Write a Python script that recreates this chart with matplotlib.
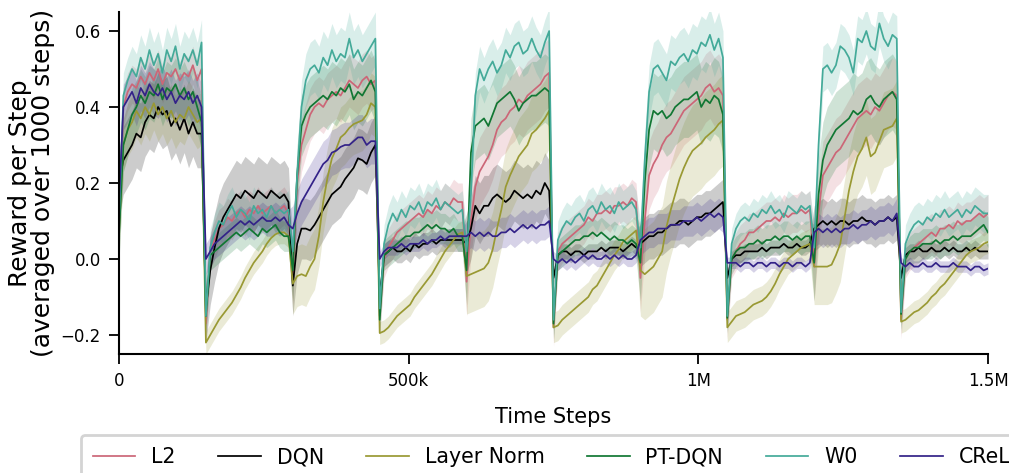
import numpy as np
import matplotlib
matplotlib.use("Agg")
import matplotlib.pyplot as plt

# time axis: one value every 7.5k steps, 10 tasks of 150k steps
steps = np.arange(201) * 7500

labels = ["L2", "DQN", "Layer Norm", "PT-DQN", "W0", "CReLU"]
colors = ["#CC6677", "#000000", "#999933", "#117733", "#44AA99", "#332288"]

l2 = [0.08, 0.40, 0.44, 0.46, 0.45, 0.48, 0.46, 0.49, 0.47, 0.50, 0.46, 0.49, 0.48, 0.50, 0.47, 0.49, 0.48, 0.51, 0.47, 0.50,
      -0.17, 0.02, 0.05, 0.08, 0.09, 0.11, 0.10, 0.12, 0.13, 0.11, 0.13, 0.12, 0.14, 0.12, 0.13, 0.14, 0.12, 0.13, 0.14, 0.12,
      -0.05, 0.20, 0.30, 0.34, 0.38, 0.40, 0.41, 0.40, 0.42, 0.43, 0.44, 0.43, 0.45, 0.47, 0.46, 0.45, 0.47, 0.48, 0.46, 0.47,
      -0.15, 0.00, 0.03, 0.05, 0.07, 0.08, 0.09, 0.10, 0.11, 0.12, 0.11, 0.13, 0.12, 0.14, 0.13, 0.15, 0.14, 0.16, 0.15, 0.15,
      -0.06, 0.10, 0.19, 0.23, 0.25, 0.27, 0.30, 0.34, 0.36, 0.37, 0.39, 0.40, 0.42, 0.41, 0.43, 0.44, 0.45, 0.46, 0.48, 0.49,
      -0.18, 0.02, 0.04, 0.05, 0.06, 0.07, 0.08, 0.09, 0.11, 0.10, 0.12, 0.12, 0.13, 0.12, 0.14, 0.14, 0.15, 0.14, 0.16, 0.15,
      -0.05, 0.10, 0.22, 0.25, 0.27, 0.30, 0.32, 0.33, 0.35, 0.37, 0.39, 0.40, 0.41, 0.42, 0.43, 0.45, 0.46, 0.44, 0.45, 0.43,
      -0.16, 0.00, 0.02, 0.04, 0.05, 0.07, 0.07, 0.08, 0.09, 0.10, 0.10, 0.11, 0.10, 0.12, 0.11, 0.12, 0.12, 0.13, 0.12, 0.13,
      -0.02, 0.12, 0.22, 0.24, 0.26, 0.28, 0.29, 0.31, 0.33, 0.35, 0.37, 0.38, 0.39, 0.38, 0.40, 0.39, 0.41, 0.43, 0.44, 0.43,
      -0.16, 0.00, 0.02, 0.03, 0.04, 0.05, 0.06, 0.07, 0.06, 0.08, 0.08, 0.09, 0.08, 0.10, 0.09, 0.10, 0.10, 0.11, 0.12, 0.11,
      0.12]

dqn = [0.20, 0.26, 0.28, 0.30, 0.33, 0.32, 0.36, 0.38, 0.37, 0.40, 0.38, 0.39, 0.35, 0.37, 0.34, 0.37, 0.33, 0.36, 0.33, 0.33,
       -0.13, -0.03, 0.03, 0.08, 0.11, 0.13, 0.15, 0.17, 0.16, 0.18, 0.17, 0.16, 0.18, 0.17, 0.16, 0.18, 0.17, 0.16, 0.17, 0.15,
       -0.07, 0.04, 0.08, 0.08, 0.075, 0.09, 0.11, 0.13, 0.15, 0.17, 0.18, 0.19, 0.21, 0.225, 0.24, 0.265, 0.26, 0.25, 0.28, 0.30,
       -0.10, 0.01, 0.02, 0.03, 0.02, 0.02, 0.03, 0.02, 0.04, 0.03, 0.04, 0.04, 0.05, 0.04, 0.05, 0.05, 0.05, 0.05, 0.05, 0.05,
       0.04, 0.08, 0.14, 0.12, 0.14, 0.14, 0.16, 0.17, 0.16, 0.15, 0.16, 0.18, 0.17, 0.16, 0.17, 0.16, 0.18, 0.17, 0.20, 0.18,
       -0.05, 0.01, 0.02, 0.02, 0.01, 0.02, 0.02, 0.01, 0.02, 0.02, 0.02, 0.03, 0.02, 0.03, 0.03, 0.03, 0.02, 0.03, 0.04, 0.03,
       0.04, 0.05, 0.06, 0.06, 0.07, 0.07, 0.08, 0.09, 0.09, 0.10, 0.10, 0.09, 0.10, 0.11, 0.11, 0.12, 0.12, 0.13, 0.14, 0.15,
       -0.05, 0.00, 0.01, 0.01, 0.02, 0.02, 0.02, 0.02, 0.03, 0.02, 0.03, 0.03, 0.03, 0.04, 0.03, 0.03, 0.04, 0.03, 0.03, 0.04,
       0.08, 0.09, 0.10, 0.09, 0.10, 0.09, 0.10, 0.10, 0.09, 0.10, 0.10, 0.11, 0.10, 0.10, 0.09, 0.10, 0.10, 0.11, 0.10, 0.11,
       -0.05, 0.01, 0.02, 0.02, 0.03, 0.02, 0.02, 0.03, 0.02, 0.02, 0.03, 0.02, 0.03, 0.02, 0.02, 0.03, 0.02, 0.03, 0.02, 0.02,
       0.02]

layer_norm = [0.07, 0.30, 0.34, 0.36, 0.39, 0.37, 0.40, 0.38, 0.41, 0.38, 0.40, 0.37, 0.39, 0.36, 0.38, 0.37, 0.40, 0.38, 0.36, 0.37,
              -0.22, -0.20, -0.18, -0.16, -0.145, -0.13, -0.115, -0.095, -0.075, -0.05, -0.03, -0.01, 0.005, 0.02, 0.04, 0.055, 0.065, 0.07, 0.07, 0.06,
              -0.065, -0.045, -0.04, -0.045, -0.02, 0.00, 0.06, 0.15, 0.215, 0.265, 0.29, 0.32, 0.33, 0.345, 0.355, 0.36, 0.365, 0.38, 0.41, 0.40,
              -0.195, -0.19, -0.18, -0.165, -0.15, -0.14, -0.13, -0.12, -0.10, -0.085, -0.07, -0.055, -0.04, -0.02, 0.00, 0.02, 0.035, 0.05, 0.065, 0.07,
              -0.045, -0.04, -0.035, -0.03, -0.025, -0.01, 0.025, 0.08, 0.13, 0.19, 0.22, 0.245, 0.27, 0.285, 0.30, 0.33, 0.34, 0.355, 0.37, 0.39,
              -0.18, -0.175, -0.16, -0.15, -0.14, -0.13, -0.12, -0.11, -0.10, -0.08, -0.07, -0.05, -0.03, -0.01, 0.01, 0.025, 0.045, 0.055, 0.065, 0.075,
              -0.03, -0.04, -0.03, -0.02, 0.00, 0.02, 0.085, 0.13, 0.17, 0.21, 0.24, 0.265, 0.285, 0.295, 0.305, 0.32, 0.33, 0.34, 0.355, 0.365,
              -0.18, -0.165, -0.15, -0.145, -0.14, -0.13, -0.12, -0.115, -0.11, -0.10, -0.085, -0.065, -0.04, -0.02, 0.00, 0.01, 0.02, 0.03, 0.035, 0.04,
              -0.02, -0.02, -0.02, -0.02, -0.015, 0.01, 0.04, 0.11, 0.18, 0.23, 0.27, 0.29, 0.32, 0.27, 0.28, 0.31, 0.34, 0.345, 0.35, 0.37,
              -0.165, -0.16, -0.15, -0.14, -0.135, -0.125, -0.115, -0.10, -0.09, -0.075, -0.065, -0.05, -0.035, -0.02, -0.005, 0.01, 0.02, 0.025, 0.03, 0.04,
              0.045]

pt_dqn = [0.06, 0.30, 0.34, 0.38, 0.40, 0.43, 0.41, 0.44, 0.43, 0.46, 0.42, 0.45, 0.44, 0.46, 0.43, 0.45, 0.42, 0.44, 0.40, 0.36,
          -0.15, 0.01, 0.02, 0.03, 0.04, 0.05, 0.06, 0.07, 0.06, 0.07, 0.08, 0.07, 0.06, 0.08, 0.07, 0.08, 0.09, 0.07, 0.06, 0.06,
          -0.03, 0.22, 0.35, 0.38, 0.40, 0.41, 0.42, 0.43, 0.42, 0.44, 0.43, 0.45, 0.44, 0.46, 0.42, 0.44, 0.43, 0.45, 0.47, 0.44,
          -0.16, 0.01, 0.02, 0.03, 0.04, 0.05, 0.06, 0.06, 0.07, 0.07, 0.08, 0.09, 0.08, 0.09, 0.08, 0.08, 0.07, 0.08, 0.06, 0.06,
          -0.03, 0.28, 0.35, 0.36, 0.37, 0.35, 0.38, 0.41, 0.42, 0.43, 0.44, 0.42, 0.39, 0.41, 0.42, 0.43, 0.43, 0.44, 0.45, 0.44,
          -0.17, 0.01, 0.02, 0.03, 0.04, 0.05, 0.05, 0.06, 0.06, 0.07, 0.06, 0.07, 0.06, 0.05, 0.06, 0.05, 0.05, 0.04, 0.05, 0.04,
          -0.01, 0.20, 0.34, 0.39, 0.38, 0.39, 0.37, 0.38, 0.40, 0.41, 0.42, 0.42, 0.43, 0.44, 0.40, 0.42, 0.41, 0.43, 0.42, 0.38,
          -0.155, 0.00, 0.02, 0.03, 0.03, 0.04, 0.04, 0.05, 0.04, 0.05, 0.05, 0.06, 0.05, 0.06, 0.06, 0.05, 0.06, 0.05, 0.06, 0.06,
          -0.01, 0.17, 0.26, 0.30, 0.32, 0.34, 0.35, 0.36, 0.37, 0.39, 0.38, 0.39, 0.42, 0.43, 0.41, 0.40, 0.42, 0.43, 0.44, 0.42,
          -0.145, 0.00, 0.02, 0.03, 0.03, 0.04, 0.04, 0.04, 0.05, 0.04, 0.05, 0.05, 0.06, 0.05, 0.06, 0.06, 0.06, 0.07, 0.08, 0.09,
          0.07]

w0 = [0.10, 0.43, 0.47, 0.50, 0.48, 0.53, 0.50, 0.55, 0.51, 0.54, 0.49, 0.55, 0.52, 0.56, 0.50, 0.54, 0.52, 0.55, 0.51, 0.57,
      -0.15, 0.03, 0.07, 0.10, 0.09, 0.12, 0.14, 0.11, 0.13, 0.12, 0.10, 0.14, 0.12, 0.13, 0.11, 0.14, 0.12, 0.13, 0.12, 0.13,
      0.02, 0.22, 0.40, 0.47, 0.50, 0.51, 0.49, 0.53, 0.51, 0.55, 0.52, 0.54, 0.53, 0.58, 0.53, 0.55, 0.52, 0.54, 0.56, 0.58,
      -0.13, 0.04, 0.09, 0.12, 0.10, 0.13, 0.11, 0.14, 0.13, 0.15, 0.12, 0.15, 0.14, 0.16, 0.13, 0.15, 0.14, 0.13, 0.12, 0.13,
      0.02, 0.17, 0.43, 0.50, 0.47, 0.50, 0.52, 0.49, 0.51, 0.55, 0.53, 0.56, 0.57, 0.54, 0.55, 0.58, 0.55, 0.53, 0.57, 0.60,
      -0.16, 0.05, 0.08, 0.10, 0.09, 0.11, 0.12, 0.10, 0.13, 0.14, 0.12, 0.15, 0.13, 0.14, 0.12, 0.15, 0.13, 0.14, 0.15, 0.13,
      0.03, 0.26, 0.44, 0.50, 0.51, 0.49, 0.47, 0.52, 0.51, 0.53, 0.54, 0.52, 0.55, 0.54, 0.57, 0.56, 0.59, 0.55, 0.58, 0.53,
      -0.15, 0.04, 0.08, 0.10, 0.11, 0.10, 0.12, 0.11, 0.13, 0.12, 0.14, 0.12, 0.13, 0.11, 0.14, 0.13, 0.12, 0.14, 0.13, 0.14,
      0.03, 0.30, 0.50, 0.51, 0.49, 0.51, 0.56, 0.55, 0.53, 0.49, 0.58, 0.57, 0.60, 0.56, 0.55, 0.62, 0.58, 0.56, 0.59, 0.58,
      -0.14, 0.04, 0.07, 0.09, 0.10, 0.09, 0.11, 0.10, 0.12, 0.11, 0.13, 0.11, 0.12, 0.13, 0.11, 0.13, 0.12, 0.14, 0.13, 0.12,
      0.12]

crelu = [0.15, 0.40, 0.42, 0.44, 0.41, 0.45, 0.43, 0.46, 0.44, 0.43, 0.45, 0.42, 0.44, 0.41, 0.43, 0.42, 0.44, 0.41, 0.43, 0.40,
         0.00, 0.02, 0.04, 0.05, 0.06, 0.07, 0.08, 0.09, 0.10, 0.09, 0.10, 0.09, 0.10, 0.11, 0.10, 0.10, 0.11, 0.10, 0.11, 0.09,
         0.08, 0.12, 0.15, 0.17, 0.19, 0.21, 0.23, 0.25, 0.26, 0.28, 0.285, 0.295, 0.30, 0.30, 0.31, 0.32, 0.32, 0.30, 0.31, 0.31,
         0.00, 0.02, 0.03, 0.03, 0.03, 0.04, 0.03, 0.04, 0.04, 0.04, 0.05, 0.04, 0.05, 0.05, 0.06, 0.05, 0.06, 0.06, 0.06, 0.06,
         0.06, 0.07, 0.06, 0.07, 0.06, 0.07, 0.06, 0.06, 0.07, 0.07, 0.08, 0.07, 0.08, 0.09, 0.08, 0.09, 0.08, 0.09, 0.09, 0.10,
         0.00, -0.01, 0.00, -0.01, 0.00, -0.01, 0.00, 0.01, 0.00, 0.01, 0.00, 0.00, 0.01, 0.00, 0.01, 0.00, 0.01, 0.00, 0.00, 0.01,
         0.05, 0.06, 0.07, 0.07, 0.08, 0.08, 0.08, 0.09, 0.09, 0.09, 0.10, 0.10, 0.10, 0.11, 0.10, 0.11, 0.12, 0.11, 0.12, 0.11,
         -0.01, -0.01, -0.01, -0.02, -0.01, -0.01, -0.02, -0.01, -0.01, -0.02, -0.01, -0.01, -0.02, -0.01, -0.01, -0.02, -0.01, -0.01, -0.02, -0.01,
         0.07, 0.08, 0.07, 0.08, 0.07, 0.08, 0.07, 0.08, 0.08, 0.09, 0.08, 0.09, 0.09, 0.10, 0.09, 0.10, 0.10, 0.11, 0.10, 0.12,
         -0.01, -0.02, -0.01, -0.02, -0.02, -0.01, -0.02, -0.02, -0.01, -0.02, -0.02, -0.02, -0.01, -0.02, -0.02, -0.02, -0.03, -0.02, -0.02, -0.03,
         -0.025]

# spread (half-width of shaded band) per task segment
l2_sd = [0.05, 0.05, 0.07, 0.05, 0.09, 0.05, 0.09, 0.05, 0.09, 0.05]
dqn_sd = [0.09, 0.09, 0.08, 0.03, 0.08, 0.02, 0.06, 0.02, 0.06, 0.02]
layer_norm_sd = [0.07, 0.03, 0.08, 0.03, 0.10, 0.04, 0.12, 0.04, 0.10, 0.03]
pt_dqn_sd = [0.07, 0.04, 0.08, 0.04, 0.09, 0.04, 0.10, 0.04, 0.10, 0.04]
w0_sd = [0.06, 0.05, 0.07, 0.05, 0.06, 0.05, 0.07, 0.04, 0.06, 0.05]
crelu_sd = [0.06, 0.04, 0.06, 0.02, 0.04, 0.02, 0.04, 0.015, 0.04, 0.015]

xtick_vals = [0, 500000, 1000000, 1500000]
xtick_labels = ["0", "500k", "1M", "1.5M"]
ytick_vals = [-0.2, 0.0, 0.2, 0.4, 0.6]

series = [l2, dqn, layer_norm, pt_dqn, w0, crelu]
spreads = [l2_sd, dqn_sd, layer_norm_sd, pt_dqn_sd, w0_sd, crelu_sd]

W, H = 1009, 473
fig = plt.figure(figsize=(W / 100, H / 100), dpi=100)
ax = fig.add_axes([119 / W, 1 - 354 / H, (988 - 119) / W, (354 - 12) / H])

handles = []
for vals, sd, lab, col in zip(series, spreads, labels, colors):
    m = np.array(vals)
    s = np.append(np.repeat(sd, 20), sd[-1])
    ax.fill_between(steps, m - s, m + s, color=col, alpha=0.2, linewidth=0)
    h, = ax.plot(steps, m, color=col, lw=1.25, label=lab)
    handles.append(h)

ax.set_xlim(0, 1500000)
ax.set_ylim(-0.25, 0.65)
ax.set_xticks(xtick_vals)
ax.set_xticklabels(xtick_labels)
ax.set_yticks(ytick_vals)
for sp in ["top", "right"]:
    ax.spines[sp].set_visible(False)
for sp in ["left", "bottom"]:
    ax.spines[sp].set_linewidth(1.5)
ax.tick_params(axis="both", labelsize=12, length=7, width=1.3, pad=6)

ax.set_xlabel("Time Steps", fontsize=15, labelpad=12)
ax.set_ylabel("Reward per Step\n(averaged over 1000 steps)", fontsize=18,
              linespacing=0.95)
ax.yaxis.set_label_coords(-0.074, 0.5)

leg = fig.legend(handles=handles, labels=labels, loc="upper left",
                 bbox_to_anchor=(80.5 / W, 1 - 435 / H), borderaxespad=0,
                 ncol=6, fontsize=14.8, handlelength=2.07, handletextpad=0.77,
                 columnspacing=2.07, borderpad=0.6, frameon=True, fancybox=True,
                 framealpha=1)
leg.get_frame().set_edgecolor("#d4d4d4")
leg.get_frame().set_linewidth(2)

fig.savefig("out.png", dpi=100)
